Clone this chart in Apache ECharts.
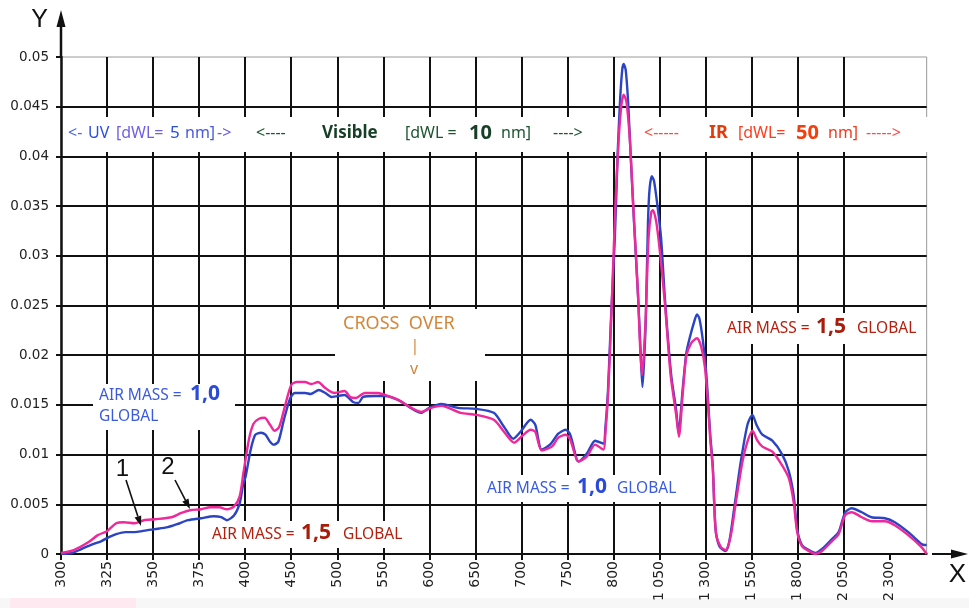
<!DOCTYPE html>
<html><head><meta charset="utf-8">
<script src="https://cdn.jsdelivr.net/npm/echarts@6/dist/echarts.min.js"></script>
<style>html,body{margin:0;padding:0;background:#fff}#chart{width:969px;height:608px}</style>
</head><body><div id="chart"></div>
<script>
// ---------------- data ----------------
const xTickLabels = ['300','325','350','375','400','450','500','550','600','650','700','750','800',
  '1 050','1 300','1 550','1 800','2 050','2 300'];
// piecewise wavelength scale of the x axis: [from nm, to nm, nm per grid cell]
const scaleSegments = [[300,400,25],[400,800,50],[800,2500,250]];
const yMax = 0.05, yStep = 0.005;

// AIR MASS = 1,0 GLOBAL (blue, curve 1)
const am10Wl = [300,306,311,316,322,326,330,335,340,344,347,351,358,363,369,376,383,387,390,394,397,399,
  400.5,406,411,417,422,427,431,436,442,449,454,465,471,480,487,494,508,517,523,528,541,552,566,591,
  600,613,631,651,670,681,691,699,710,715,722,731,740,748,753,760,762,771,780,789,791,794,797,807,
  822,835,847,855,866,879,893,911,933,948,957,966,975,987,996,1008,1020,1040,1058,1080,1113,1140,1153,
  1175,1195,1213,1240,1253,1266,1285,1302,1313,1325,1339,1353,1374,1408,1428,1455,1491,1527,1554,1576,
  1608,1662,1716,1752,1778,1797,1823,1860,1896,1932,1986,2022,2058,2093,2148,2201,2273,2327,2400,2472,2490,2500];
const am10Val = [0,0.0001,0.0005,0.0009,0.0013,0.0017,0.0020,0.0022,0.0022,0.0023,0.0024,0.0025,0.0027,0.0030,0.0034,0.0036,0.0038,0.0037,0.0034,0.0039,0.0051,0.0071,
  0.0078,0.0105,0.0120,0.0122,0.0120,0.0113,0.0110,0.0113,0.0135,0.0157,0.0162,0.0162,0.0161,0.0165,0.0162,0.0158,0.0160,0.0153,0.0152,0.0158,0.0159,0.0159,0.0155,0.0142,
  0.0147,0.0151,0.0147,0.0146,0.0142,0.0128,0.0116,0.0123,0.0135,0.0130,0.0105,0.0110,0.0121,0.0125,0.0120,0.0095,0.0093,0.0101,0.0114,0.0111,0.0125,0.0165,0.0232,0.0318,
  0.0401,0.0455,0.0487,0.0493,0.0487,0.0455,0.0401,0.0334,0.0260,0.0199,0.0168,0.0195,0.0235,0.0334,0.0368,0.0380,0.0375,0.0348,0.0318,0.0254,0.0180,0.0145,0.0122,
  0.0165,0.0202,0.0217,0.0235,0.0241,0.0237,0.0215,0.0185,0.0155,0.0120,0.0088,0.0027,0.0008,0.0003,0.0012,0.0046,0.0093,0.0130,0.0140,0.0130,
  0.0120,0.0114,0.0100,0.0083,0.0059,0.0025,0.0009,0.0004,0.0001,0.0005,0.0015,0.0022,0.0042,0.0046,0.0042,0.0037,0.0036,0.0032,0.0022,0.0010,0.0009,0.0009];

// AIR MASS = 1,5 GLOBAL (magenta, curve 2)
const am15Wl = [300,307,315,320,325,330,334,340,345,351,360,365,370,376,381,386,390,394,397,399,
  404,409,415,421,427,432,437,443,450,456,465,472,479,487,497,508,514,520,530,544,552,566,591,
  602,613,634,651,670,681,692,701,710,715,722,733,740,748,753,762,771,780,789,791,794,797,810,
  828,843,855,870,888,907,933,945,955,964,975,990,1005,1014,1032,1050,1078,1110,1140,1155,
  1175,1195,1221,1253,1275,1296,1313,1325,1339,1356,1383,1410,1437,1464,1500,1527,1554,1581,
  1608,1662,1716,1752,1778,1797,1823,1860,1896,1932,1986,2022,2058,2093,2148,2201,2273,2327,2400,2472,2500];
const am15Val = [0.0001,0.0004,0.0012,0.0019,0.0023,0.0031,0.0032,0.0031,0.0034,0.0035,0.0037,0.0041,0.0044,0.0045,0.0047,0.0047,0.0045,0.0048,0.0058,0.0081,
  0.0115,0.0131,0.0136,0.0137,0.0130,0.0124,0.0128,0.0148,0.0170,0.0173,0.0173,0.0171,0.0173,0.0167,0.0162,0.0164,0.0158,0.0157,0.0162,0.0162,0.0160,0.0155,0.0143,
  0.0147,0.0149,0.0142,0.0140,0.0135,0.0123,0.0112,0.0119,0.0125,0.0123,0.0104,0.0108,0.0117,0.0120,0.0115,0.0093,0.0098,0.0110,0.0105,0.0120,0.0160,0.0225,0.0351,
  0.0418,0.0452,0.0462,0.0455,0.0418,0.0351,0.0260,0.0205,0.0180,0.0200,0.0240,0.0318,0.0344,0.0346,0.0334,0.0307,0.0254,0.0180,0.0140,0.0118,
  0.0160,0.0199,0.0212,0.0217,0.0209,0.0188,0.0150,0.0115,0.0085,0.0021,0.0007,0.0004,0.0019,0.0052,0.0093,0.0113,0.0124,0.0114,
  0.0108,0.0103,0.0089,0.0076,0.0052,0.0022,0.0008,0.0003,0.0000,0.0003,0.0013,0.0020,0.0039,0.0042,0.0037,0.0033,0.0033,0.0029,0.0019,0.0007,0.0000];

// ---------------- helpers ----------------
function wlToCell(wl){
  let c = 0;
  for (const [a,b,step] of scaleSegments){
    if (wl <= b) return c + (wl - a) / step;
    c += (b - a) / step;
  }
  return c;
}
const xMax = wlToCell(scaleSegments[scaleSegments.length-1][1]);
const tickIdx = xTickLabels.map((_, i) => i);

const G = {left:61, top:57, width:871, height:497};
const FONT = '"Noto Sans", "DejaVu Sans", sans-serif';

function T(x, y, text, color, size, weight, align, family){
  return {type:'text', x:x, y:y, z:10,
    style:{text:text, fill:color, font:(weight||'normal')+' '+size+'px '+(family||FONT),
      align:align||'left', textAlign:align||'left', verticalAlign:'middle', textVerticalAlign:'middle'}};
}
function box(x, y, w, h){
  return {type:'rect', z:1, shape:{x:x, y:y, width:w, height:h}, style:{fill:'#ffffff'}};
}
function arrow(x1, y1, x2, y2, color, len, half){
  const dx = x2 - x1, dy = y2 - y1, L = Math.hypot(dx, dy), ux = dx / L, uy = dy / L;
  const bx = x2 - ux * len, by = y2 - uy * len;
  return [
    {type:'line', z:10, shape:{x1:x1, y1:y1, x2:bx, y2:by}, style:{stroke:color, lineWidth:1.6}},
    {type:'polygon', z:10, shape:{points:[[x2,y2],[bx - uy*half, by + ux*half],[bx + uy*half, by - ux*half]]}, style:{fill:color}}
  ];
}

const gx0 = G.left, gy0 = G.top + G.height, gx1 = G.left + G.width;
const ARIAL = '"Liberation Sans", Arial, sans-serif';
const graphics = [
  // scan artefacts at the bottom
  {type:'rect', z:0, shape:{x:0, y:598, width:969, height:10}, style:{fill:'#f8f7f8'}},
  {type:'rect', z:0, shape:{x:10, y:598, width:126, height:10}, style:{fill:'#fde9ef'}},
  // white label backgrounds (hide grid lines)
  box(63, 117, 183, 35), box(250, 117, 365, 35), box(619, 117, 311, 35),
  box(335, 309, 150, 72),
  box(93, 384, 142, 46),
  box(206, 521, 198, 27),
  box(482, 475, 196, 27),
  box(721, 313, 199, 31),
  // axis extensions with arrow heads
  {type:'line', z:10, shape:{x1:gx0, y1:G.top, x2:gx0, y2:20}, style:{stroke:'#111', lineWidth:2.5}},
  {type:'polygon', z:10, shape:{points:[[gx0,10],[gx0-4.5,27],[gx0+4.5,27]]}, style:{fill:'#111'}},
  {type:'line', z:10, shape:{x1:gx1, y1:gy0, x2:955, y2:gy0}, style:{stroke:'#111', lineWidth:2}},
  {type:'polygon', z:10, shape:{points:[[968,gy0],[951,gy0-4.5],[951,gy0+4.5]]}, style:{fill:'#111'}},
  // headers
  T(68,133,'<-','#4a66ee',16), T(88,133,'UV','#2a4ee4',16), T(116,133,'[dWL=','#6f5fe6',16),
  T(170,133,'5','#2a4ee4',17), T(185,133,'nm]','#4a58e0',16), T(217,133,'->','#6a58e8',16),
  T(256,133,'<----','#1e5530',16), T(322,133,'Visible','#163f25',17,'bold'),
  T(405,133,'[dWL =','#1e5530',16), T(469,133,'10','#163f25',20,'bold'),
  T(501,133,'nm]','#1e5530',16), T(553,133,'---->','#1e5530',16),
  T(644,133,'<-----','#ff4a3a',16), T(709,133,'IR','#e63a0c',18,'bold'),
  T(738,133,'[dWL=','#ff3d1f',16), T(796,133,'50','#f0400f',20,'bold'),
  T(828,133,'nm]','#ee3a20',16), T(866,133,'----->','#ff4a4a',16),
  // cross over
  T(343,324,'CROSS  OVER','#d2873c',18), T(415,346,'|','#d2873c',16,'normal','center'),
  T(414,369,'v','#d2873c',16,'normal','center'),
  // air mass labels
  T(99,396,'AIR MASS =','#3a5ae0',15.5), T(190,394,'1,0','#2a4ad8',21,'bold'), T(99,417,'GLOBAL','#3a5ae0',15.5),
  T(212,535,'AIR MASS =','#b5200e',15.5), T(301,533,'1,5','#a81c0c',21,'bold'), T(343,535,'GLOBAL','#b5200e',15.5),
  T(487,489,'AIR MASS =','#3a5ae0',15.5), T(577,487,'1,0','#2a4ad8',21,'bold'), T(617,489,'GLOBAL','#3a5ae0',15.5),
  T(727,329,'AIR MASS =','#b5200e',15.5), T(816,327,'1,5','#a81c0c',21,'bold'), T(857,329,'GLOBAL','#b5200e',15.5),
  // curve numbers
  T(122.5,469,'1','#111',24,'normal','center',ARIAL), T(168,467,'2','#111',24,'normal','center',ARIAL)
].concat(arrow(126,480,141,526,'#111',10,3.5), arrow(175,480,190,509,'#111',10,3.5));

const chart = echarts.init(document.getElementById('chart'), null, {renderer:'canvas'});
chart.setOption({
  animation:false,
  backgroundColor:'#ffffff',
  grid:{left:G.left, top:G.top, width:G.width, height:G.height, show:true, borderColor:'#9a9a9a', borderWidth:1, containLabel:false},
  xAxis:{
    type:'value', min:0, max:xMax, interval:1,
    name:'X', nameLocation:'end', nameGap:22,
    nameTextStyle:{fontSize:26, color:'#111', fontFamily:ARIAL, align:'left', verticalAlign:'top', padding:[8,0,0,0]},
    axisLine:{show:true, onZero:false, lineStyle:{color:'#111', width:2}},
    axisTick:{show:true, length:6, customValues:tickIdx, lineStyle:{color:'#111', width:2}},
    axisLabel:{customValues:tickIdx, rotate:90, margin:7, color:'#222', fontSize:14, fontFamily:'"DejaVu Sans", sans-serif',
      formatter:function(v){ const i = Math.round(v); return Math.abs(v - i) < 1e-6 && xTickLabels[i] !== undefined ? xTickLabels[i] : ''; }},
    splitLine:{show:true, showMinLine:false, showMaxLine:false, lineStyle:{color:'#111', width:2}}
  },
  yAxis:{
    type:'value', min:0, max:yMax, interval:yStep,
    name:'Y', nameLocation:'end', nameGap:37,
    nameTextStyle:{fontSize:25, color:'#111', fontFamily:ARIAL, align:'right', verticalAlign:'middle', padding:[0,13,0,0]},
    axisLine:{show:true, lineStyle:{color:'#111', width:2.5}},
    axisTick:{show:true, length:5, lineStyle:{color:'#111', width:2}},
    axisLabel:{margin:12, color:'#222', fontSize:13.5, fontFamily:'"DejaVu Sans", sans-serif',
      formatter:function(v){ return v === 0 ? '0' : String(parseFloat(v.toFixed(4))); }},
    splitLine:{show:true, showMinLine:false, showMaxLine:false, lineStyle:{color:'#111', width:2}}
  },
  graphic:graphics,
  series:[
    {name:'AIR MASS = 1,0 GLOBAL', type:'line', symbol:'none', smooth:0.25, z:3,
      lineStyle:{color:'#2a44c4', width:2.4},
      data:am10Wl.map((w,i)=>[wlToCell(w), am10Val[i]])},
    {name:'AIR MASS = 1,5 GLOBAL', type:'line', symbol:'none', smooth:0.25, z:4,
      lineStyle:{color:'#f0289a', width:2.4},
      data:am15Wl.map((w,i)=>[wlToCell(w), am15Val[i]])}
  ]
});
</script>
</body></html>
